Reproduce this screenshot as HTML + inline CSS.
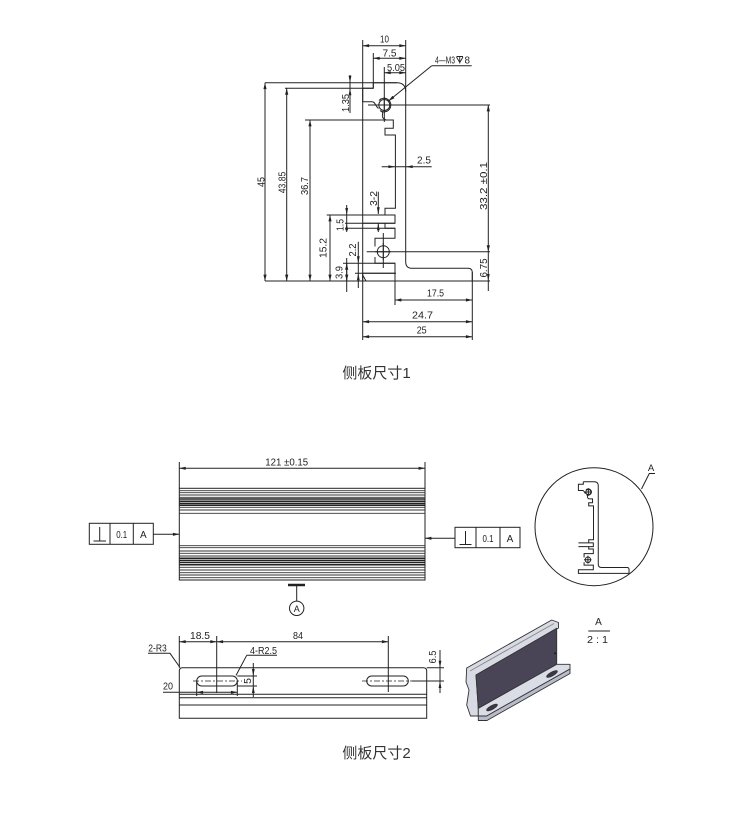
<!DOCTYPE html>
<html><head><meta charset="utf-8"><style>
html,body{margin:0;padding:0;background:#fff;}
svg{display:block;}
.t{font-family:"Liberation Sans Narrow","Liberation Sans",sans-serif;font-size:10.5px;fill:#222;}
.cap{font-family:"Liberation Sans","Noto Sans CJK SC",sans-serif;font-size:15px;fill:#333;}
</style></head><body>
<svg width="750" height="833" viewBox="0 0 750 833" xmlns="http://www.w3.org/2000/svg">
<defs>
<marker id="ar" viewBox="0 0 8 4" refX="8" refY="2" markerWidth="7" markerHeight="3.2" markerUnits="userSpaceOnUse" orient="auto-start-reverse"><path d="M0,0L8,2L0,4z" fill="#222"/></marker>
<g id="pf" fill="none" stroke="#222" stroke-width="1">
<path vector-effect="non-scaling-stroke" d="M373.3,82.7H397Q405.7,82.7 405.7,91.7V261.7Q405.7,268.3 412.3,268.3H468Q472.3,268.3 472.3,272.6V281H362.7V273.3H395V263.3H375V257 M375,246.5V238.3H395V228.3H385V223.3H395V215H385V208.3H395.4V135H385V128.3H393.3V120H386 M373.3,82.7V88.3H362.7V101.7H372C375.5,101.7 375,106 378.5,108.5 M381,111C385,113 380,116 384,119L386,120 M362.7,215H385 M362.7,223.3H385"/>
<circle vector-effect="non-scaling-stroke" cx="384.3" cy="105" r="5.5"/>
<path vector-effect="non-scaling-stroke" d="M379,100.5A6.8,6.8 0 1 1 380,110.5"/>
<circle vector-effect="non-scaling-stroke" cx="383.3" cy="251.7" r="6"/>
<path vector-effect="non-scaling-stroke" d="M376,105H392 M384.3,97V113 M375,251.7H391 M383.3,243V260"/>
</g>
</defs>

<!-- ================= TOP DRAWING ================= -->
<use href="#pf"/>
<g fill="none" stroke="#222" stroke-width="1">
<!-- extension lines -->
<path d="M362.7,40V340 M405.7,40V91.7 M373.3,53V88.3 M384.3,67V122 M265,82.7H397 M285,88.3H373.3 M305,120H393.3 M326.7,215H395 M345,223.3H395 M345,228.3H395 M343,263.3H395 M355,273.3H396 M265,281H490 M472.3,272V340 M395,263.3V305 M390,105H490 M368,105H379 M366.7,251.7H490 M383.3,233V268 M350,75V113 M346.7,205V232 M346.7,258V292 M358.3,241.7V288 M378.3,191.7V214 M378.3,223.3V232 M488.3,251.7V291 M381.7,166.7H431.7 M431.7,65.7H471.7 M362.7,275L366,281"/>
<path d="M431.7,65.7L388.5,101" marker-end="url(#ar)"/>
<!-- dimension lines with arrows -->
<path d="M362.7,45.7H405.7" marker-start="url(#ar)" marker-end="url(#ar)"/>
<path d="M373.3,58.3H405.7" marker-start="url(#ar)" marker-end="url(#ar)"/>
<path d="M384.3,72.7H405.7" marker-start="url(#ar)" marker-end="url(#ar)"/>
<path d="M265,82.7V281" marker-start="url(#ar)" marker-end="url(#ar)"/>
<path d="M286.7,88.3V281" marker-start="url(#ar)" marker-end="url(#ar)"/>
<path d="M310,120V281" marker-start="url(#ar)" marker-end="url(#ar)"/>
<path d="M330,215V281" marker-start="url(#ar)" marker-end="url(#ar)"/>
<path d="M488.3,105V251.7" marker-start="url(#ar)" marker-end="url(#ar)"/>
<path d="M346.7,263.3V281" marker-start="url(#ar)" marker-end="url(#ar)"/>
<path d="M395,300H472.3" marker-start="url(#ar)" marker-end="url(#ar)"/>
<path d="M362.7,321.7H472.3" marker-start="url(#ar)" marker-end="url(#ar)"/>
<path d="M362.7,336.7H472.3" marker-start="url(#ar)" marker-end="url(#ar)"/>
</g>
<!-- loose arrowheads -->
<g fill="#222">
<path d="M348.6,75.7L350,82.7L351.4,75.7z"/>
<path d="M348.6,95.3L350,88.3L351.4,95.3z"/>
<path d="M345.3,208L346.7,215L348.1,208z"/>
<path d="M345.3,230.3L346.7,223.3L348.1,230.3z"/>
<path d="M376.9,207.3L378.3,214.3L379.7,207.3z"/>
<path d="M376.9,230.3L378.3,223.3L379.7,230.3z"/>
<path d="M356.9,256.3L358.3,263.3L359.7,256.3z"/>
<path d="M356.9,280.3L358.3,273.3L359.7,280.3z"/>
<path d="M486.9,274L488.3,281L489.7,274z"/>
<path d="M388.4,165.3L395.4,166.7L388.4,168.1z"/>
<path d="M412.7,165.3L405.7,166.7L412.7,168.1z"/>
</g>
<!-- top texts -->
<g class="t">
<text x="384.5" y="42.3" text-anchor="middle" textLength="9" lengthAdjust="spacingAndGlyphs">10</text>
<text x="389.5" y="56.5" text-anchor="middle" textLength="14" lengthAdjust="spacingAndGlyphs">7.5</text>
<text x="396" y="71" text-anchor="middle" textLength="18" lengthAdjust="spacingAndGlyphs">5.05</text>
<text x="435" y="63.5" textLength="20" lengthAdjust="spacingAndGlyphs">4—M3</text>
<text x="464.5" y="63.5" textLength="5.5" lengthAdjust="spacingAndGlyphs">8</text>
<text x="417" y="163.5" textLength="14" lengthAdjust="spacingAndGlyphs">2.5</text>
<text x="435.5" y="296.7" text-anchor="middle" textLength="17" lengthAdjust="spacingAndGlyphs">17.5</text>
<text x="422.5" y="318.3" text-anchor="middle" textLength="21" lengthAdjust="spacingAndGlyphs">24.7</text>
<text x="421.7" y="333.3" text-anchor="middle" textLength="10" lengthAdjust="spacingAndGlyphs">25</text>
<text transform="translate(349,103) rotate(-90)" text-anchor="middle" textLength="18" lengthAdjust="spacingAndGlyphs">1.35</text>
<text transform="translate(264.5,182) rotate(-90)" text-anchor="middle" textLength="10" lengthAdjust="spacingAndGlyphs">45</text>
<text transform="translate(285.5,182.5) rotate(-90)" text-anchor="middle" textLength="21.5" lengthAdjust="spacingAndGlyphs">43.85</text>
<text transform="translate(308,186) rotate(-90)" text-anchor="middle" textLength="18" lengthAdjust="spacingAndGlyphs">36.7</text>
<text transform="translate(326.5,248) rotate(-90)" text-anchor="middle" textLength="20" lengthAdjust="spacingAndGlyphs">15.2</text>
<text transform="translate(343.5,225) rotate(-90)" text-anchor="middle" textLength="12" lengthAdjust="spacingAndGlyphs">1.5</text>
<text transform="translate(377,198.5) rotate(-90)" text-anchor="middle" textLength="15" lengthAdjust="spacingAndGlyphs">3-2</text>
<text transform="translate(356,250) rotate(-90)" text-anchor="middle" textLength="13" lengthAdjust="spacingAndGlyphs">2.2</text>
<text transform="translate(342.5,272.5) rotate(-90)" text-anchor="middle" textLength="13" lengthAdjust="spacingAndGlyphs">3.9</text>
<text transform="translate(487,186) rotate(-90)" text-anchor="middle" textLength="48" lengthAdjust="spacingAndGlyphs">33.2 ±0.1</text>
<text transform="translate(487,268) rotate(-90)" text-anchor="middle" textLength="19" lengthAdjust="spacingAndGlyphs">6.75</text>
</g>
<!-- depth symbol -->
<path d="M456.5,56.5H463 M456.5,57L459.75,62.5L463,57 M459.75,56.5V63.5" fill="none" stroke="#222" stroke-width="0.9"/>

<text class="cap" x="376.5" y="378" text-anchor="middle">侧板尺寸1</text>

<!-- ================= FRONT VIEW ================= -->
<g fill="none" stroke="#222" stroke-width="1">
<path d="M179.3,462V488.3 M425,462V488.3"/>
<path d="M179.3,468.3H425" marker-start="url(#ar)" marker-end="url(#ar)"/>
<rect x="179.3" y="488.3" width="245.7" height="91.7"/>
</g>
<g stroke="#333" stroke-width="0.9">
<path d="M179.3,490.7H425 M179.3,492.7H425 M179.3,495H425 M179.3,497.3H425 M179.3,507.3H425 M179.3,510H425 M179.3,513.3H425"/>
<path d="M179.3,545.7H425 M179.3,547.7H425 M179.3,551H425 M179.3,553.3H425 M179.3,556H425 M179.3,567.3H425 M179.3,570H425 M179.3,572.7H425 M179.3,575H425 M179.3,577.7H425"/>
</g>
<g stroke="#222" stroke-width="1.5">
<path d="M179.3,499H425 M179.3,501.2H425 M179.3,503.4H425 M179.3,505.3H425"/>
<path d="M179.3,558.3H425 M179.3,560.4H425 M179.3,562.5H425 M179.3,564.8H425"/>
</g>
<!-- datum A -->
<path d="M288,585H305" stroke="#222" stroke-width="2.5"/>
<path d="M296.7,585V601" stroke="#222" stroke-width="1"/>
<circle cx="296.7" cy="608.3" r="7.2" fill="none" stroke="#222" stroke-width="1"/>
<text class="t" x="296.7" y="612" text-anchor="middle" style="font-size:9px">A</text>

<!-- left FCF -->
<g fill="none" stroke="#222" stroke-width="1">
<rect x="89.3" y="523.3" width="64" height="21"/>
<path d="M110,523.3V544.3 M133.3,523.3V544.3 M99.7,527V541 M93.5,541H106"/>
<path d="M153.3,534.3H179.3" marker-end="url(#ar)"/>
<rect x="455" y="527.3" width="65" height="20.4"/>
<path d="M476,527.3V547.7 M500,527.3V547.7 M465.5,531V544.5 M459.5,544.5H471.5"/>
<path d="M455,538.3H425" marker-end="url(#ar)"/>
</g>
<g class="t" style="font-size:10px">
<text x="121.7" y="538" text-anchor="middle" textLength="11" lengthAdjust="spacingAndGlyphs">0.1</text>
<text x="143.3" y="538" text-anchor="middle">A</text>
<text x="488" y="542" text-anchor="middle" textLength="11" lengthAdjust="spacingAndGlyphs">0.1</text>
<text x="510" y="542" text-anchor="middle">A</text>
<text x="286.7" y="465.5" text-anchor="middle" textLength="43" lengthAdjust="spacingAndGlyphs">121 ±0.15</text>
</g>

<!-- detail circle -->
<circle cx="594" cy="526.7" r="59" fill="none" stroke="#222" stroke-width="1"/>
<path d="M641.5,489L649.3,473.5H655" fill="none" stroke="#222" stroke-width="1"/>
<text class="t" x="651" y="471" text-anchor="middle" style="font-size:9.5px">A</text>
<use href="#pf" transform="translate(578.4,481.7) scale(0.462) translate(-362.7,-82.7)"/>

<!-- ================= BOTTOM VIEW ================= -->
<g fill="none" stroke="#222" stroke-width="1">
<path d="M179.3,718.3V671Q179.3,667.7 182.6,667.7H423.4Q426.7,667.7 426.7,671V718.3Z"/>
<path d="M179.3,694.3H426.7 M179.3,697.7H426.7 M179.3,705H426.7"/>
<rect x="196.7" y="676" width="40.6" height="10" rx="5"/>
<rect x="366.7" y="676" width="41.6" height="10" rx="5"/>
<path d="M193,681H242 M362,681H412" stroke-dasharray="6,2,2,2" stroke-width="0.8"/>
<path d="M179.3,636V667.7 M216.7,636V693 M388.3,636V692"/>
<path d="M179.3,641.7H216.7" marker-start="url(#ar)" marker-end="url(#ar)"/>
<path d="M216.7,641.7H388.3" marker-start="url(#ar)" marker-end="url(#ar)"/>
<path d="M148,653.3H170L180,667.5 M246.7,655.3H277 M246.7,655.3L236,675.5"/>
<path d="M237.3,676H257 M237.3,686H257 M253.3,663V697"/>
<path d="M163,692.3H196.7 M196.7,681V696 M237.3,681V696"/>
<path d="M196.7,692.3H237.3" marker-start="url(#ar)" marker-end="url(#ar)"/>
<path d="M426.7,667.7H444 M412,681H444 M440,650V693"/>
</g>
<g fill="#222">
<path d="M251.9,669L253.3,676L254.7,669z"/>
<path d="M251.9,693L253.3,686L254.7,693z"/>
<path d="M438.6,660.7L440,667.7L441.4,660.7z"/>
<path d="M438.6,688L440,681L441.4,688z"/>
</g>
<g class="t">
<text x="200" y="639" text-anchor="middle" textLength="20" lengthAdjust="spacingAndGlyphs">18.5</text>
<text x="298" y="639" text-anchor="middle" textLength="10" lengthAdjust="spacingAndGlyphs">84</text>
<text x="148.3" y="651.7" textLength="18.5" lengthAdjust="spacingAndGlyphs">2-R3</text>
<text x="250" y="654" textLength="27" lengthAdjust="spacingAndGlyphs">4-R2.5</text>
<text x="163" y="689.5" textLength="10" lengthAdjust="spacingAndGlyphs">20</text>
<text transform="translate(251,681) rotate(-90)" text-anchor="middle">5</text>
<text transform="translate(436,657) rotate(-90)" text-anchor="middle" textLength="13" lengthAdjust="spacingAndGlyphs">6.5</text>
</g>

<!-- 3D view -->
<g stroke="#333" stroke-width="0.9" stroke-linejoin="round">
<polygon points="466.7,668 551.7,620 558.5,622.5 558.5,628 476,675 478.3,708.3 478.3,716 470.5,716 466.7,705 469,690 466,682" fill="#d8dae4"/>
<path d="M470,671L554,623.5" fill="none" stroke="#888"/>
<polygon points="476,675 556.7,628.3 556.7,665 478.3,708.3" fill="#4a4457"/>
<polygon points="478.3,708.3 556.7,664.3 570,664.3 570,669 486.7,716 478.3,716" fill="#dadce6"/>
<polygon points="486.7,716 570,669 570,673.5 487,720.5 478.3,720.5 478.3,716" fill="#b8bbca"/>
<ellipse cx="492" cy="707.5" rx="6" ry="1.8" transform="rotate(-29.3 492 707.5)" fill="#3c3848"/>
<ellipse cx="552" cy="674" rx="6" ry="1.8" transform="rotate(-29.3 552 674)" fill="#3c3848"/>
</g>
<circle cx="555" cy="653.3" r="0.9" fill="#111"/>
<g class="t" style="font-size:10px">
<text x="598.5" y="625" text-anchor="middle">A</text>
<text x="597.5" y="643" text-anchor="middle" textLength="21" lengthAdjust="spacingAndGlyphs">2 : 1</text>
</g>
<path d="M588.3,631H610" stroke="#222" stroke-width="1"/>

<text class="cap" x="376.5" y="758" text-anchor="middle">侧板尺寸2</text>
</svg>
</body></html>
